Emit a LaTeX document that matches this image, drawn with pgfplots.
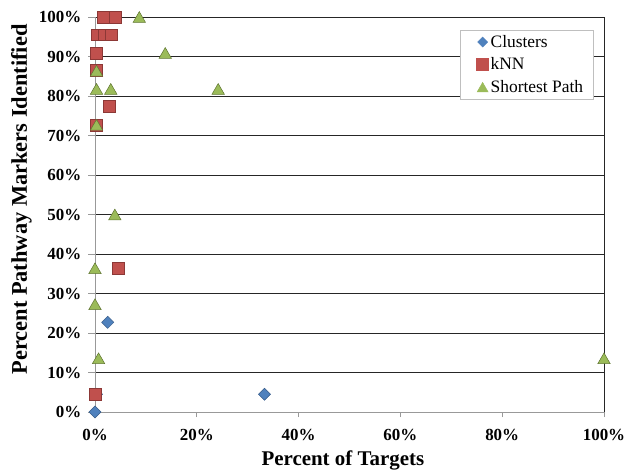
\documentclass[border=0pt]{standalone}
\usepackage{pgfplots}
\pgfplotsset{compat=1.18}
\usepackage{fontspec}
\setmainfont{Liberation Serif}
\definecolor{cblue}{HTML}{4F81BD}
\definecolor{cblueb}{HTML}{385D8A}
\definecolor{cred}{HTML}{C0504D}
\definecolor{credb}{HTML}{8C3836}
\definecolor{cgreen}{HTML}{9BBB59}
\definecolor{cgreenb}{HTML}{5F7530}
\begin{document}
\begin{tikzpicture}
\useasboundingbox (-95bp,-59bp) rectangle (532bp,412bp);
\begin{axis}[
  scale only axis, width=509bp, height=395bp,
  xmin=0, xmax=100, ymin=0, ymax=100,
  clip=false,
  axis lines*=left,
  axis line style={-, gray!80, line width=0.9pt},
  xtick={0,20,...,100}, ytick={0,10,...,100},
  tick style={gray!80, line width=0.9pt},
  tick align=outside,
  xtick style={/pgfplots/major tick length=5bp},
  ytick style={/pgfplots/major tick length=6.5bp},
  ymajorgrids, major grid style={black!85, line width=0.9pt},
  /pgf/number format/assume math mode=true,
  xticklabel={\pgfmathprintnumber{\tick}\%},
  yticklabel={\pgfmathprintnumber{\tick}\%},
  ticklabel style={font=\fontsize{17}{20}\selectfont\bfseries},
  xticklabel style={yshift=-9bp},
  yticklabel style={xshift=-6bp},
  xlabel={Percent of Targets},
  ylabel={Percent Pathway Markers Identified},
  xlabel style={font=\fontsize{21}{24}\selectfont\bfseries, at={(axis description cs:0.487,-0.1342)}, anchor=base},
  ylabel style={font=\fontsize{22.5}{26}\selectfont\bfseries, at={(axis description cs:-0.1336,0.538)}, anchor=base},
  legend style={at={(0.98,0.967)}, anchor=north east, draw=gray!50, fill=white,
    font=\fontsize{17.5}{19}\selectfont, row sep=5bp, inner xsep=8.5bp, inner ysep=3bp},
  legend cell align=left,
  legend image code/.code={\path[draw=none, fill=none] (-8bp,-5bp) (12bp,5bp); \draw[#1] plot coordinates {(6bp,0bp)};},
]
\addplot[forget plot, only marks, mark=square*, mark size=4.3pt, mark options={rotate=45, fill=cblue, draw=cblueb, line width=0.5pt}]
  coordinates {(0,0) (0.3,4.5) (2.5,22.7) (33.3,4.5)};
\addplot[forget plot, only marks, mark=square*, mark size=6pt, mark options={fill=cred, draw=credb, line width=0.5pt}]
  coordinates {(1.6,100) (3.9,100) (0.4,95.5) (1.8,95.5) (3.2,95.5) (0.3,90.9) (0.3,86.4) (2.8,77.3) (0.3,72.7) (4.6,36.4) (0,4.5)};
\addplot[forget plot, only marks, mark=triangle*, mark size=7.2pt, mark options={yshift=-1.8pt, fill=cgreen, draw=cgreenb, line width=0.5pt}]
  coordinates {(8.7,100) (13.8,90.9) (0.3,86.4) (0.3,81.8) (3.1,81.8) (24.2,81.8) (0.3,72.7) (3.9,50) (0,36.4) (0,27.3) (0.7,13.6) (100,13.6)};
\addlegendimage{only marks, mark=square*, mark size=3.6pt, mark options={rotate=45, fill=cblue, draw=cblue}}
\addlegendentry{Clusters}
\addlegendimage{only marks, mark=square*, mark size=6pt, mark options={fill=cred, draw=cred}}
\addlegendentry{kNN}
\addlegendimage{only marks, mark=triangle*, mark size=6.4pt, mark options={yshift=-1.6pt, fill=cgreen, draw=cgreen}}
\addlegendentry{Shortest Path}
\draw[black!85, line width=0.9pt] (axis cs:100,0) -- (axis cs:100,100);
\end{axis}
\end{tikzpicture}
\end{document}
